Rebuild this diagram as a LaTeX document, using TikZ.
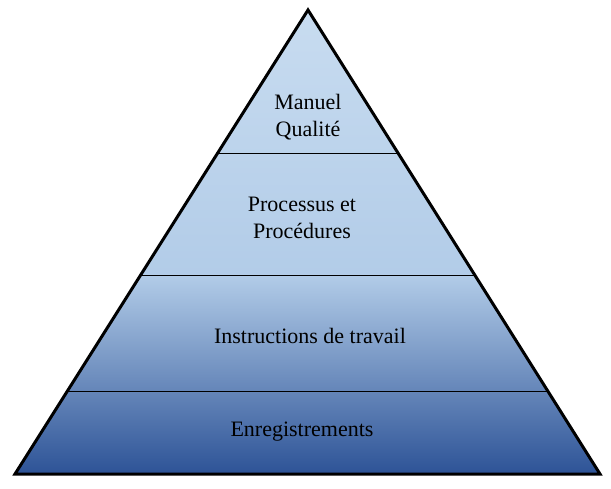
\documentclass[tikz,border=0pt]{standalone}
\usepackage{fontspec}
\setmainfont{Liberation Serif}
\usetikzlibrary{calc}
\begin{document}
\begin{tikzpicture}[x=1pt,y=-1pt,
  lbl/.style={font=\fontsize{22}{27}\selectfont,align=center,text=black},
  band/.style={draw=black,line width=0.8pt}]
\useasboundingbox (0,0) rectangle (611,489);
\coordinate (apex) at (308,10);
\coordinate (bl) at (15,474);
\coordinate (br) at (600,474);
\begin{scope}
\clip (apex) -- (bl) -- (br) -- cycle;
\shade[top color={rgb,255:red,200;green,220;blue,240}, bottom color={rgb,255:red,178;green,204;blue,232}] (0,9) rectangle (611,276);
\shade[top color={rgb,255:red,178;green,204;blue,232}, bottom color={rgb,255:red,44;green,82;blue,150}] (0,275) rectangle (611,476);
\end{scope}
\foreach \t/\n in {0.308/a,0.571/b,0.823/c}{
  \draw[band] ($(apex)!\t!(bl)$) coordinate (l\n) -- ($(apex)!\t!(br)$) coordinate (r\n);
}
\draw[line width=3pt,line join=miter] (apex) -- (bl) -- (br) -- cycle;
\node[lbl] (n1) at (308,117) {Manuel\\Qualité};
\node[lbl] (n2) at (302,218) {Processus et\\Procédures};
\node[lbl] (n3) at (310,336) {Instructions de travail};
\node[lbl] (n4) at (302,432) {Enregistrements};
\end{tikzpicture}
\end{document}
